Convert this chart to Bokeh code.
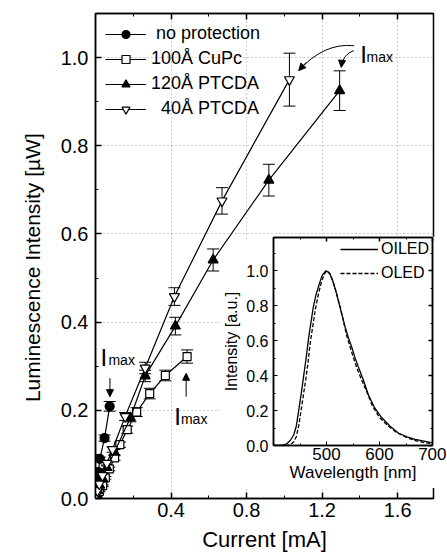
from bokeh.plotting import figure
from bokeh.models import (ColumnDataSource, Whisker, TeeHead, Legend, LegendItem, Arrow,
                          NormalHead, Range1d, LinearAxis, FixedTicker, PrintfTickFormatter)
from bokeh.layouts import column
from bokeh.embed import file_html
from bokeh.resources import INLINE
from bokeh.core.properties import value

# ---------------- data ----------------
np_current = [0.002, 0.004, 0.007, 0.010, 0.015, 0.023, 0.048, 0.075]
np_lum     = [0.008, 0.018, 0.030, 0.045, 0.060, 0.090, 0.137, 0.209]
np_err     = [0.001, 0.001, 0.002, 0.002, 0.003, 0.004, 0.007, 0.011]

cupc_current = [0.005, 0.010, 0.020, 0.038, 0.052, 0.073, 0.101, 0.129, 0.168, 0.218, 0.287, 0.370, 0.485]
cupc_lum     = [0.004, 0.008, 0.016, 0.029, 0.047, 0.067, 0.092, 0.122, 0.156, 0.196, 0.238, 0.279, 0.322]
cupc_err     = [0.001, 0.001, 0.001, 0.002, 0.003, 0.004, 0.005, 0.006, 0.008, 0.010, 0.012, 0.012, 0.015]

p120_current = [0.005, 0.012, 0.022, 0.038, 0.060, 0.100, 0.185, 0.263, 0.423, 0.623, 0.918, 1.293]
p120_lum     = [0.008, 0.018, 0.030, 0.045, 0.070, 0.105, 0.183, 0.278, 0.391, 0.541, 0.722, 0.925]
p120_err     = [0.001, 0.001, 0.002, 0.003, 0.004, 0.006, 0.009, 0.013, 0.020, 0.025, 0.036, 0.045]

p40_current = [0.004, 0.010, 0.020, 0.037, 0.060, 0.090, 0.157, 0.263, 0.418, 0.670, 1.027]
p40_lum     = [0.008, 0.018, 0.033, 0.052, 0.080, 0.111, 0.186, 0.296, 0.458, 0.675, 0.950]
p40_err     = [0.001, 0.001, 0.002, 0.003, 0.004, 0.006, 0.009, 0.013, 0.020, 0.030, 0.060]

series_labels = ["\u00a0no protection", "100\u00c5 CuPc", "120\u00c5 PTCDA", "\u00a0\u00a040\u00c5 PTCDA"]

x_major = [0.4, 0.8, 1.2, 1.6]
x_minor = [0.2, 0.6, 1.0, 1.4]
y_major = [0.0, 0.2, 0.4, 0.6, 0.8, 1.0]
y_minor = [0.1, 0.3, 0.5, 0.7, 0.9]

# inset spectra
wl_oiled  = [400, 415, 425, 432, 438, 443, 447, 452, 457, 462, 466, 471, 475, 480, 486, 492, 499,
             505, 511, 517, 523, 529, 535, 541, 548, 554, 560, 570, 579, 590, 604, 620, 636, 652,
             667, 684, 700]
int_oiled = [0.0, 0.0, 0.01, 0.03, 0.06, 0.11, 0.19, 0.29, 0.40, 0.51, 0.61, 0.71, 0.79, 0.86, 0.92,
             0.975, 1.0, 0.99, 0.95, 0.89, 0.82, 0.75, 0.68, 0.62, 0.56, 0.50, 0.45, 0.37, 0.29,
             0.22, 0.16, 0.11, 0.07, 0.05, 0.035, 0.025, 0.015]
wl_oled   = [400, 425, 432, 438, 443, 448, 452, 456, 460, 465, 469, 474, 479, 485, 490, 495, 500,
             507, 513, 519, 526, 532, 538, 545, 551, 559, 567, 577, 586, 600, 617, 632, 648, 665,
             682, 700]
int_oled  = [0.0, 0.0, 0.005, 0.02, 0.05, 0.12, 0.20, 0.28, 0.36, 0.47, 0.58, 0.68, 0.78, 0.87, 0.93,
             0.975, 1.0, 0.98, 0.93, 0.87, 0.79, 0.71, 0.63, 0.56, 0.50, 0.43, 0.37, 0.30, 0.23,
             0.16, 0.11, 0.075, 0.05, 0.03, 0.018, 0.01]
inset_labels = ["OILED", "OLED"]
wl_major = [500, 600, 700]
wl_minor = [450, 550, 650]
in_major = [0.0, 0.2, 0.4, 0.6, 0.8, 1.0]
in_minor = [0.1, 0.3, 0.5, 0.7, 0.9, 1.1]

FONT = "Liberation Sans"


def tick_only_axis(ticker, tick_in, minor_in):
    # mirrored frame ticks without labels (labels not drawn at all)
    return LinearAxis(ticker=ticker, major_label_text_font_size="1px",
                      major_label_text_color=None, major_label_standoff=0,
                      axis_line_width=1.5, major_tick_in=tick_in, major_tick_out=0,
                      minor_tick_in=minor_in, minor_tick_out=0, major_tick_line_width=1.5)


# ---------------- main figure ----------------
p = figure(width=447, height=559, x_range=Range1d(0, 1.79), y_range=Range1d(0, 1.1),
           output_backend="svg", toolbar_location=None,
           min_border_left=88, min_border_right=1, min_border_top=13, min_border_bottom=61,
           x_axis_label="Current [mA]",
           y_axis_label="Luminescence Intensity [\u00b5W]\u00a0\u00a0\u00a0\u00a0")
p.outline_line_color = "black"
p.outline_line_width = 1.5

p.xaxis.ticker = FixedTicker(ticks=x_major, minor_ticks=x_minor)
p.yaxis.ticker = FixedTicker(ticks=y_major, minor_ticks=y_minor)
for ax in (p.xaxis[0], p.yaxis[0]):
    ax.formatter = PrintfTickFormatter(format="%.1f")
    ax.axis_line_width = 1.5
    ax.major_tick_in = 6
    ax.major_tick_out = 0
    ax.minor_tick_in = 3
    ax.minor_tick_out = 0
    ax.major_tick_line_width = 1.5
    ax.major_label_text_font = FONT
    ax.major_label_text_font_size = "20px"
    ax.major_label_text_color = "black"
    ax.axis_label_text_font = FONT
    ax.axis_label_text_font_style = "normal"
    ax.axis_label_text_color = "black"
p.xaxis.axis_label_text_font_size = "22px"
p.yaxis.axis_label_text_font_size = "21px"
p.xaxis.major_label_standoff = 4
p.xaxis.axis_label_standoff = 7
p.yaxis.major_label_standoff = 7
p.yaxis.axis_label_standoff = 14

p.add_layout(tick_only_axis(FixedTicker(ticks=x_major, minor_ticks=x_minor), 6, 3), "above")

p.grid.grid_line_color = "#9a9a9a"
p.grid.grid_line_dash = "1 3"
p.grid.grid_line_width = 1

series = [
    (np_current, np_lum, np_err, "circle", "black", 9),
    (cupc_current, cupc_lum, cupc_err, "square", "white", 8),
    (p120_current, p120_lum, p120_err, "triangle", "black", 10),
    (p40_current, p40_lum, p40_err, "inverted_triangle", "white", 10),
]
items = []
for (xs, ys, es, mk, fill, sz), lab in zip(series, series_labels):
    src = ColumnDataSource(dict(x=xs, y=ys,
                                up=[a + b for a, b in zip(ys, es)],
                                lo=[a - b for a, b in zip(ys, es)]))
    p.add_layout(Whisker(source=src, base="x", upper="up", lower="lo", dimension="height",
                         line_color="black", line_width=1,
                         upper_head=TeeHead(size=12, line_color="black", line_width=1),
                         lower_head=TeeHead(size=12, line_color="black", line_width=1)))
    lr = p.line("x", "y", source=src, line_color="black", line_width=1.2)
    sr = p.scatter("x", "y", source=src, marker=mk, size=sz, fill_color=fill,
                   line_color="black", line_width=1.2)
    items.append(LegendItem(label=lab, renderers=[lr, sr]))

legend = Legend(items=items, location="top_left", border_line_color=None,
                background_fill_alpha=0, label_text_font=FONT, label_text_font_size="18px",
                label_text_color="black", glyph_width=41, glyph_height=20, label_height=20,
                spacing=4, padding=9, margin=10, label_standoff=5)
p.add_layout(legend)

# I_max annotations
p.text(x=[0.026, 0.4175, 1.4025], y=[0.319, 0.186, 1.008], text=["I", "I", "I"],
       text_font=value(FONT), text_font_size=value("24px"), text_color="black",
       text_baseline="alphabetic", text_align="left")
p.text(x=[0.0685, 0.4525, 1.435], y=[0.3145, 0.181, 1.002], text=["max", "max", "max"],
       text_font=value(FONT), text_font_size=value("14px"), text_color="black",
       text_baseline="alphabetic", text_align="left")
head = dict(size=7, fill_color="black", line_color="black")
p.add_layout(Arrow(end=NormalHead(**head), x_start=0.0765, y_start=0.273, x_end=0.0765, y_end=0.231,
                   line_color="black", line_width=1))
p.add_layout(Arrow(end=NormalHead(**head), x_start=0.48, y_start=0.231, x_end=0.48, y_end=0.284,
                   line_color="black", line_width=1))
p.quadratic(x0=[1.3685, 1.3685], y0=[1.027, 1.016], x1=[1.0765, 1.3015], y1=[0.9706, 0.978],
            cx=[1.21, 1.31], cy=[1.034, 1.008], line_color="black", line_width=1)
p.add_layout(Arrow(end=NormalHead(**head), x_start=1.1165, y_start=0.9896, x_end=1.0765, y_end=0.9706,
                   line_color="black", line_width=1))
p.add_layout(Arrow(end=NormalHead(**head), x_start=1.304, y_start=0.9871, x_end=1.3015, y_end=0.978,
                   line_color="black", line_width=1))

# ---------------- inset figure ----------------
# generous fixed left border (95) so the frame is exactly 159 px wide; the unused
# left strip is clipped away so the main plot behind it stays visible
q = figure(width=268, height=252, x_range=Range1d(400, 700), y_range=Range1d(0, 1.19),
           output_backend="svg", toolbar_location=None,
           min_border_left=95, min_border_right=14, min_border_top=1, min_border_bottom=43,
           background_fill_color="white", border_fill_color="white",
           x_axis_label="Wavelength [nm]", y_axis_label="Intensity [a.u.]")
q.styles = {"position": "absolute", "left": "178px", "top": "236px",
            "clip-path": "polygon(72px 0px, 100% 0px, 100% 100%, 42px 100%, 42px 30px)"}
q.outline_line_color = "black"
q.outline_line_width = 1.5
q.grid.visible = False
q.xaxis.ticker = FixedTicker(ticks=wl_major, minor_ticks=wl_minor)
q.yaxis.ticker = FixedTicker(ticks=in_major, minor_ticks=in_minor)
q.yaxis.formatter = PrintfTickFormatter(format="%.1f")
for ax in (q.xaxis[0], q.yaxis[0]):
    ax.axis_line_width = 1.5
    ax.major_tick_in = 4
    ax.major_tick_out = 0
    ax.minor_tick_in = 2
    ax.minor_tick_out = 0
    ax.major_label_text_font = FONT
    ax.major_label_text_color = "black"
    ax.axis_label_text_font = FONT
    ax.axis_label_text_font_style = "normal"
    ax.axis_label_text_color = "black"
q.xaxis.major_label_text_font_size = "17px"
q.xaxis.axis_label_text_font_size = "17px"
q.xaxis.major_label_standoff = 2
q.xaxis.axis_label_standoff = 0
q.yaxis.major_label_text_font_size = "16px"
q.yaxis.axis_label_text_font_size = "16px"
q.yaxis.major_label_standoff = 5
q.yaxis.axis_label_standoff = 3
q.add_layout(tick_only_axis(FixedTicker(ticks=wl_major, minor_ticks=wl_minor), 4, 2), "above")
q.add_layout(tick_only_axis(FixedTicker(ticks=in_major, minor_ticks=in_minor), 4, 2), "right")

r1 = q.line(wl_oiled, int_oiled, line_color="black", line_width=1.3)
r2 = q.line(wl_oled, int_oled, line_color="black", line_width=1.3, line_dash="4 2")
q.add_layout(Legend(items=[LegendItem(label=inset_labels[0], renderers=[r1]),
                           LegendItem(label=inset_labels[1], renderers=[r2])],
                    location="top_right", border_line_color=None, background_fill_alpha=0,
                    label_text_font=FONT, label_text_font_size="16px", label_text_color="black",
                    glyph_width=38, glyph_height=16, label_height=16, spacing=6,
                    padding=1, margin=3, label_standoff=3))

layout = column(p, q)
open("out.html", "w").write(file_html(layout, INLINE))
